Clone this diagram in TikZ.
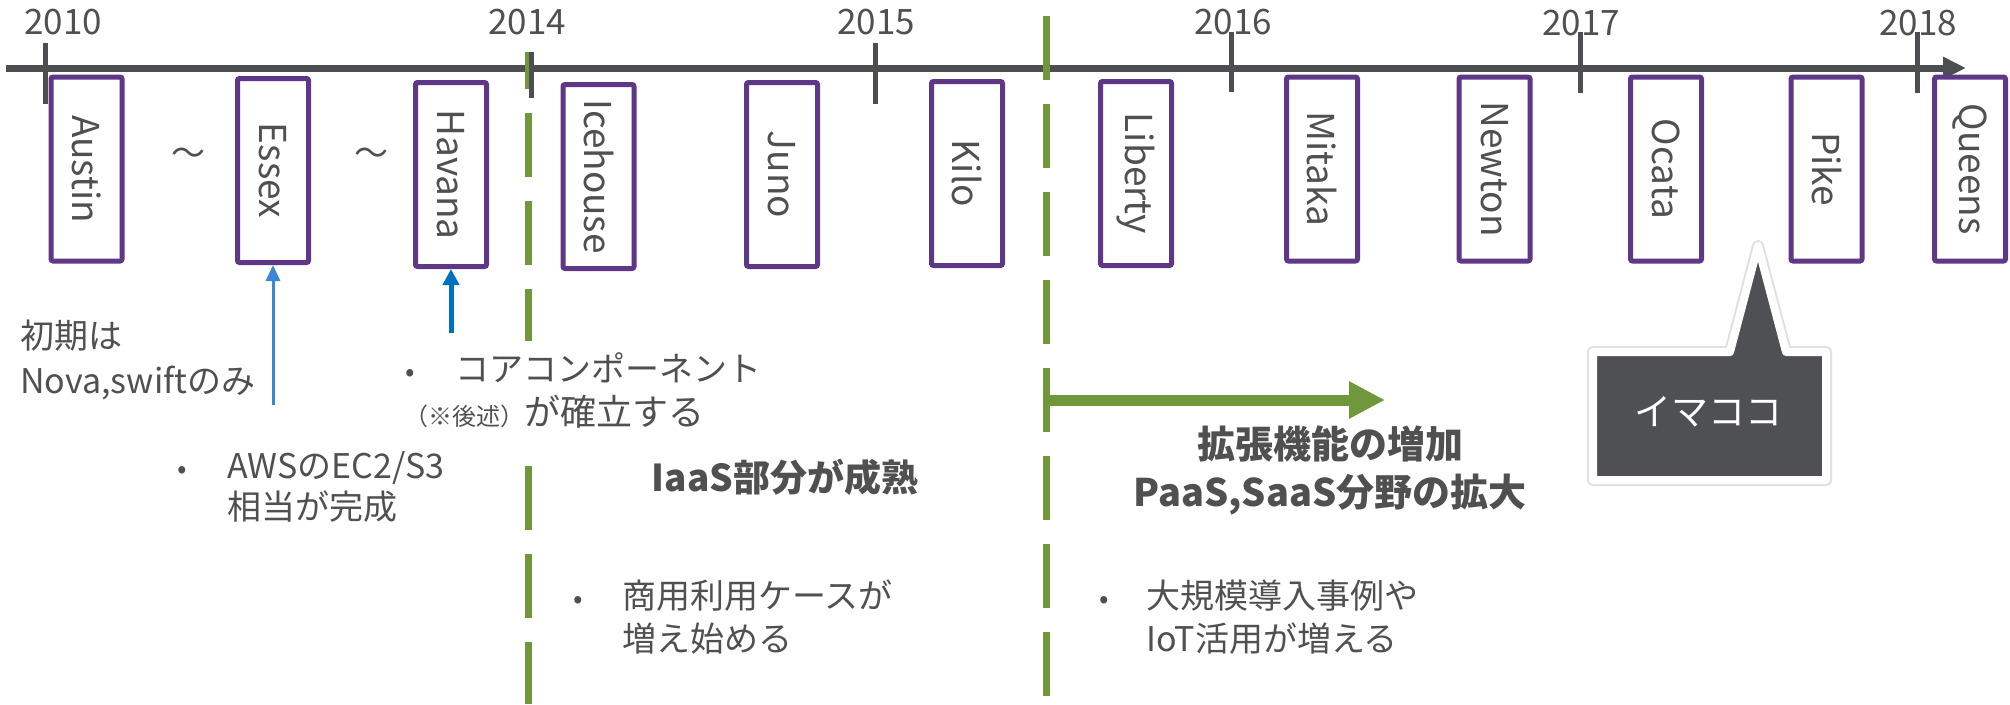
\documentclass[tikz,border=0pt]{standalone}
\usepackage{fontspec}
\setmainfont{Noto Sans CJK JP}
\usetikzlibrary{arrows.meta,shadows}
\definecolor{tl}{RGB}{77,78,82}
\definecolor{relpurple}{RGB}{94,55,135}
\definecolor{sepgreen}{RGB}{112,151,58}
\definecolor{blueA}{RGB}{61,133,214}
\definecolor{blueB}{RGB}{0,112,192}
\definecolor{txt}{RGB}{80,80,80}
\definecolor{calloutgray}{RGB}{79,80,84}
\tikzset{
  relbox/.style={draw=relpurple, line width=5pt, fill=white, minimum width=71pt, minimum height=184pt, inner sep=0pt, rounded corners=2pt, text=txt, font=\fontsize{37}{37}\selectfont},
  yearlabel/.style={text=txt, font=\fontsize{35}{35}\selectfont, inner sep=0pt},
  tickline/.style={draw=tl, line width=5pt},
  sepline/.style={draw=sepgreen, line width=7pt, dash pattern=on 64pt off 24pt},
  jtext/.style={text=txt, font=\fontsize{34}{43}\selectfont, inner sep=0pt, align=left},
  jbold/.style={text=txt, font=\fontsize{38}{48}\bfseries\selectfont, inner sep=0pt, align=center},
  bul/.style={text=txt, font=\fontsize{28}{28}\selectfont, inner sep=0pt, anchor=base},
  tilde/.style={text=txt, font=\fontsize{34}{34}\selectfont, inner sep=0pt},
}
\begin{document}
\begin{tikzpicture}[x=1pt,y=-1pt]
\useasboundingbox (0,0) rectangle (2010,704);
% timeline
\coordinate (tlstart) at (6,68);
\coordinate (tlend) at (1966,68);
\draw[draw=tl, line width=7pt, -{Triangle[length=23pt,width=21pt]}] (tlstart) -- (tlend);
% green separators
\draw[sepline, dash phase=27pt] (528,52) -- (528,341);
\draw[sepline] (528,466) -- (528,704);
\draw[sepline] (1046,16) -- (1046,704);
% ticks
\draw[tickline] (45,43) -- (45,104);
\draw[tickline] (531,52) -- (531,98);
\draw[tickline] (875,43) -- (875,104);
\draw[tickline] (1231,32) -- (1231,92);
\draw[tickline] (1580,32) -- (1580,93);
\draw[tickline] (1917,32) -- (1917,93);
% year labels
\node[yearlabel] (y2010) at (63,22) {2010};
\node[yearlabel] (y2014) at (527,22) {2014};
\node[yearlabel] (y2015) at (876,22) {2015};
\node[yearlabel] (y2016) at (1233,22) {2016};
\node[yearlabel] (y2017) at (1581,23) {2017};
\node[yearlabel] (y2018) at (1918,23) {2018};
% release boxes
\node[relbox] (austin) at (86.5,169) {\rotatebox{-90}{Austin}};
\node[relbox] (essex) at (273,170.5) {\rotatebox{-90}{Essex}};
\node[relbox] (havana) at (451,174.5) {\rotatebox{-90}{Havana}};
\node[relbox] (icehouse) at (598.5,176.5) {\rotatebox{-90}{Icehouse}};
\node[relbox] (juno) at (782,174.5) {\rotatebox{-90}{Juno}};
\node[relbox] (kilo) at (967,173.5) {\rotatebox{-90}{Kilo}};
\node[relbox] (liberty) at (1136,173.5) {\rotatebox{-90}{Liberty}};
\node[relbox] (mitaka) at (1322,169) {\rotatebox{-90}{Mitaka}};
\node[relbox] (newton) at (1494.5,169) {\rotatebox{-90}{Newton}};
\node[relbox] (ocata) at (1666,169) {\rotatebox{-90}{Ocata}};
\node[relbox] (pike) at (1826.5,169) {\rotatebox{-90}{Pike}};
\node[relbox] (queens) at (1970,169) {\rotatebox{-90}{Queens}};
% tildes
\node[tilde] (t1) at (188,157) {～};
\node[tilde] (t2) at (371,157) {～};
% blue arrows
\coordinate (essexfoot) at (273,405);
\coordinate (havanafoot) at (451,333);
\draw[draw=blueA, line width=3pt, -{Triangle[length=16pt,width=14pt]}] (essexfoot) -- (essex.south);
\draw[draw=blueB, line width=5pt, -{Triangle[length=16pt,width=16pt]}] (havanafoot) -- (havana.south);
% green arrow
\coordinate (gstart) at (1046,400);
\coordinate (gend) at (1385,400);
\draw[draw=sepgreen, line width=11pt, -{Triangle[length=36pt,width=35pt]}] (gstart) -- (gend);
% texts (base anchor = baseline of last line)
\node[jtext, anchor=base west] (init) at (20,393) {初期は\\[2pt]Nova,swiftのみ};
\node[bul] (b1) at (410,381) {•};
\node[jtext, anchor=base west, font=\fontsize{34}{44}\selectfont] (core) at (404,425) {\hspace{51pt}コアコンポーネント\\{\fontsize{24}{24}\selectfont （※後述）}{\fontsize{36}{36}\selectfont が確立する}};
\node[bul] (b2) at (182,478) {•};
\node[jtext, anchor=base west, font=\fontsize{34}{41}\selectfont] (aws) at (227,519) {AWSのEC2/S3\\相当が完成};
\node[jbold, anchor=base, font=\fontsize{37}{37}\bfseries\selectfont] (iaas) at (785,491) {IaaS部分が成熟};
\node[bul] (b3) at (578,608) {•};
\node[jtext, anchor=base west] (comm) at (622,651) {商用利用ケースが\\増え始める};
\node[jbold, anchor=base] (ext) at (1330,506) {拡張機能の増加\\PaaS,SaaS分野の拡大};
\node[bul] (b4) at (1104,608) {•};
\node[jtext, anchor=base west] (large) at (1146,651) {大規模導入事例や\\IoT活用が増える};
% callout
\path[draw=black!12, line width=12pt, line join=round, drop shadow={opacity=0.2, shadow xshift=1pt, shadow yshift=-3pt}] (1593,352) -- (1730,352) -- (1758,246) -- (1786,352) -- (1826,352) -- (1826,480) -- (1593,480) -- cycle;
\path[draw=white, line width=8pt, fill=calloutgray, line join=round] (1593,352) -- (1730,352) -- (1758,246) -- (1786,352) -- (1826,352) -- (1826,480) -- (1593,480) -- cycle;
\node[text=white, font=\fontsize{37}{37}\selectfont, inner sep=0pt] (now) at (1708,412) {イマココ};
\end{tikzpicture}
\end{document}
